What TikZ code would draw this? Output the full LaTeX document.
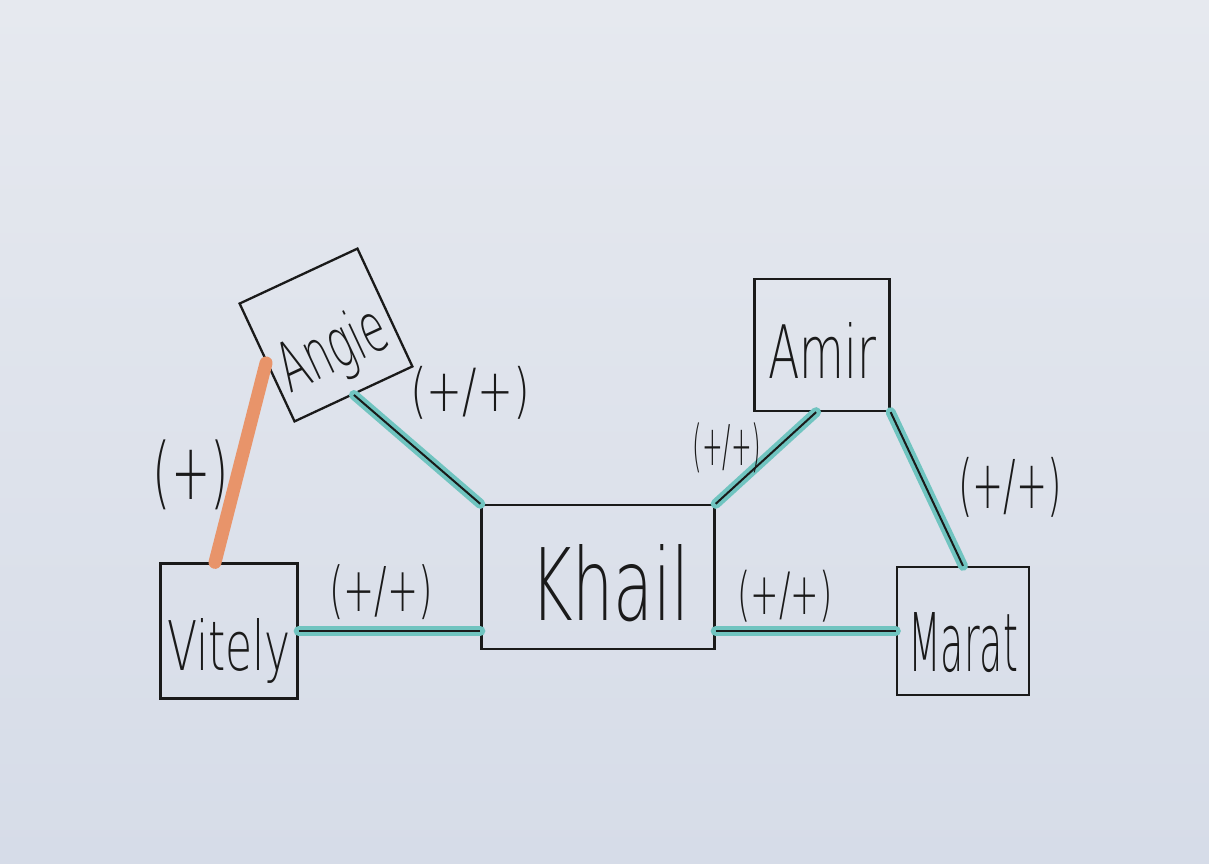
\documentclass[tikz,border=0pt]{standalone}
\usepackage{fontspec}
\usepackage{graphicx}
\newfontfamily\hand{DejaVu Sans ExtraLight}
\newcommand{\hw}[3]{\resizebox{#1}{#2}{\hand #3}}
\newcommand{\hwt}[3]{\resizebox*{#1}{#2}{\hand #3}}
\definecolor{papertop}{HTML}{E6E9EF}
\definecolor{paperbot}{HTML}{D6DCE8}
\definecolor{ink}{HTML}{1A1A1A}
\definecolor{tealhl}{HTML}{70C4C0}
\definecolor{orangehl}{HTML}{E8946A}
\begin{document}
\begin{tikzpicture}[x=0.5pt,y=-0.5pt,
  box/.style={draw=ink, line width=1.15pt, rectangle, inner sep=0pt, text depth=0pt, text=ink},
  rel/.style={inner sep=0pt, text=ink},
  tie/.style={draw=ink, line width=1pt, preaction={draw=tealhl, line width=5pt, line cap=round}},
  neg/.style={draw=orangehl, line width=6.5pt, line cap=round}]
\useasboundingbox (0,0) rectangle (1209,863);
\shade[top color=papertop, bottom color=paperbot] (0,0) rectangle (1209,863);

% people
\node[box, minimum width=68.5pt, minimum height=67.5pt, text height=39pt] (vitely) at (229,631) {\hw{62pt}{26pt}{Vitely}};
\node[box, minimum width=116.5pt, minimum height=72pt, text height=43pt] (khail) at (598,577) {\hspace{12pt}\hw{80pt}{38pt}{Khail}};
\node[box, minimum width=66pt, minimum height=64pt, text height=40.5pt] (marat) at (963,631) {\hw{55pt}{29.5pt}{Marat}};
\node[box, minimum width=67.5pt, minimum height=66pt, text height=33.5pt] (amir) at (822,345) {\hw{54pt}{28pt}{Amir}};
\node[box, rotate=25, minimum width=65pt, minimum height=65pt, text height=37.6pt] (angie) at (326,335) {\hw{57pt}{26pt}{Angie}};

% relations
\draw[neg] (angie.west) -- ([xshift=-7pt]vitely.north);
\draw[tie] (angie.south) -- (khail.north west);
\draw[tie] (vitely.east) -- (vitely.east -| khail.west);
\draw[tie] (marat.west -| khail.east) -- (marat.west);
\draw[tie] (khail.north east) -- (amir.265);
\draw[tie] (amir.south east) -- (marat.north);

% labels
\node[rel] (l1) at (470,393) {\hwt{60pt}{26.5pt}{(+/+)}};
\node[rel] (l2) at (191,475) {\hwt{38pt}{35pt}{(+)}};
\node[rel] (l3) at (381,592) {\hwt{52pt}{27.5pt}{(+/+)}};
\node[rel] (l4) at (785,596) {\hwt{47.5pt}{26pt}{(+/+)}};
\node[rel] (l5) at (727,448) {\hwt{34.5pt}{25pt}{(+/+)}};
\node[rel] (l6) at (1010,487) {\hwt{52pt}{30pt}{(+/+)}};
\end{tikzpicture}
\end{document}
